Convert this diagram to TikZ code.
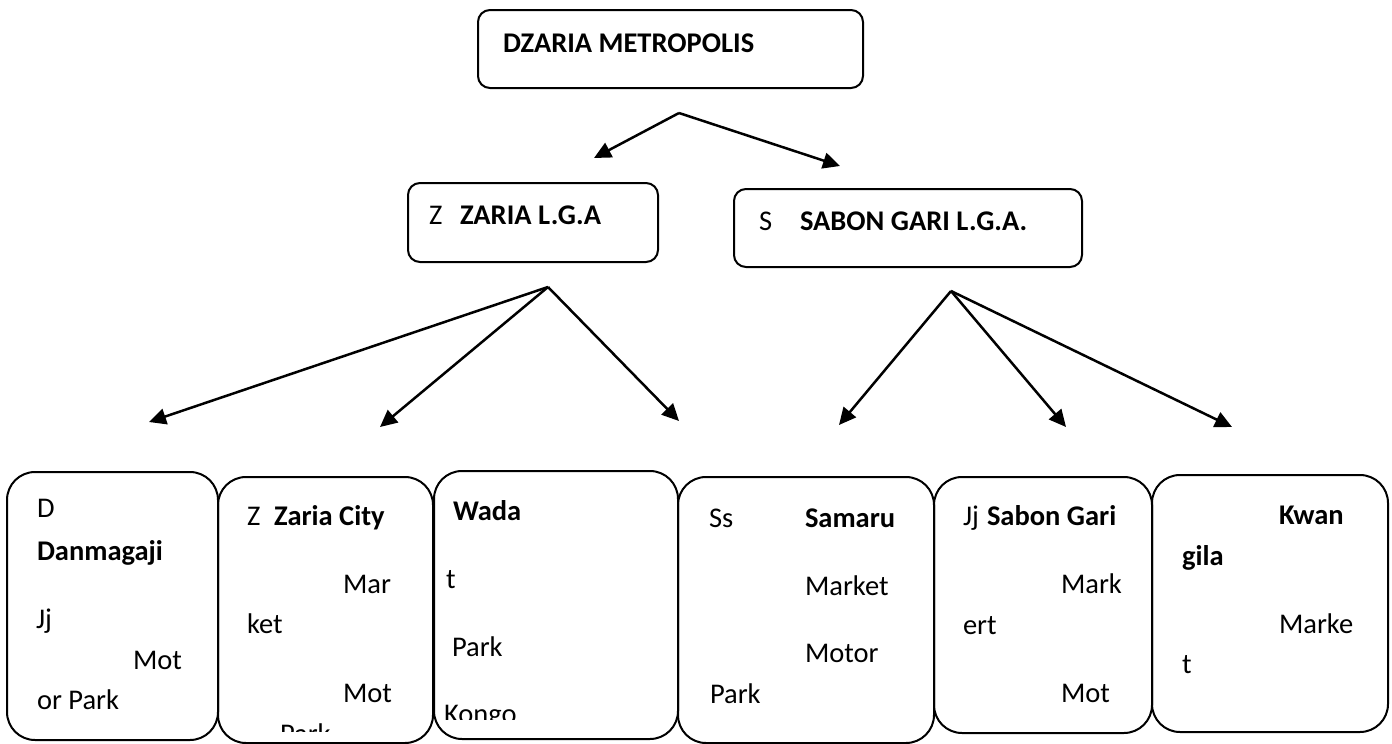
\documentclass[tikz,border=0pt]{standalone}
\usepackage{fontspec}
\setmainfont{Carlito}
\usetikzlibrary{arrows.meta}
\tikzset{
  topbox/.style={draw, line width=2pt, rounded corners=12pt, inner sep=0pt, outer sep=0pt},
  bigbox/.style={draw, line width=2pt, rounded corners=28pt, inner sep=0pt, outer sep=0pt},
  txt/.style={anchor=base west, inner sep=0pt, outer sep=0pt, font=\fontsize{28.5}{34}\selectfont},
  btxt/.style={txt, font=\fontsize{28.5}{34}\selectfont\bfseries},
  arr/.style={line width=2.5pt, -{Triangle[length=17pt,width=16pt]}}
}
\begin{document}
\begin{tikzpicture}[x=1pt,y=-1pt]
\useasboundingbox (0,0) rectangle (1392,744);
% top level boxes
\node[topbox, minimum width=385pt, minimum height=78pt] (top) at (670.5,49) {};
\node[topbox, minimum width=250pt, minimum height=79pt] (zlga) at (533,222.5) {};
\node[topbox, minimum width=348pt, minimum height=78pt] (slga) at (908,228) {};
\node[btxt] (ttop) at (503,52) {DZARIA METROPOLIS};
\node[txt] (tz) at (429,224) {Z};
\node[btxt] (tzlga) at (460,224) {ZARIA L.G.A};
\node[txt] (ts) at (759,230) {S};
\node[btxt] (tslga) at (800,230) {SABON GARI L.G.A.};
% bottom boxes
\node[bigbox, minimum width=211pt, minimum height=268pt] (b1) at (112.5,606) {};
\node[bigbox, minimum width=215pt, minimum height=266pt] (b2) at (325.5,610) {};
\node[bigbox, minimum width=244pt, minimum height=268pt] (b3) at (556,605) {};
\node[bigbox, minimum width=256pt, minimum height=266pt] (b4) at (806,610) {};
\node[bigbox, minimum width=218pt, minimum height=256pt] (b5) at (1043,605) {};
\node[bigbox, minimum width=236pt, minimum height=257pt] (b6) at (1270,603.5) {};
% box 1
\node[txt] (b1a) at (37,517) {D};
\node[btxt] (b1b) at (37,560) {Danmagaji};
\node[txt] (b1c) at (36,628) {Jj};
\node[txt] (b1d) at (133,669) {Mot};
\node[txt] (b1e) at (37,709) {or Park};
% box 2
\node[txt] (b2a) at (247,525) {Z};
\node[btxt] (b2b) at (274,525) {Zaria City};
\node[txt] (b2c) at (343,593) {Mar};
\node[txt] (b2d) at (247,633) {ket};
\node[txt] (b2e) at (343,702) {Mot};
\begin{scope}
\clip (220,479) rectangle (431,731);
\node[txt] (b2f) at (280,743) {Park};
\end{scope}
% box 3
\node[btxt] (b3a) at (453,520) {Wada};
\node[txt] (b3b) at (446,588) {t};
\node[txt] (b3c) at (452,656) {Park};
\begin{scope}
\clip (436,473) rectangle (676,719);
\node[txt] (b3d) at (444,723) {Kongo};
\end{scope}
% box 4
\node[txt] (b4a) at (709,527) {Ss};
\node[btxt] (b4b) at (805,527) {Samaru};
\node[txt] (b4c) at (805,595) {Market};
\node[txt] (b4d) at (805,662) {Motor};
\node[txt] (b4e) at (710,703) {Park};
% box 5
\node[txt] (b5a) at (963,525) {Jj};
\node[btxt] (b5b) at (987,525) {Sabon Gari};
\node[txt] (b5c) at (1061,593) {Mark};
\node[txt] (b5d) at (963,634) {ert};
\node[txt] (b5e) at (1061,702) {Mot};
% box 6
\node[btxt] (b6a) at (1279,524) {Kwan};
\node[btxt] (b6b) at (1182,565) {gila};
\node[txt] (b6c) at (1279,633) {Marke};
\node[txt] (b6d) at (1182,673) {t};
% connectors
\coordinate (a0) at (679,113);
\coordinate (t0l) at (594,158);
\coordinate (t0r) at (840,166);
\coordinate (a1) at (548,287);
\coordinate (t11) at (149,422);
\coordinate (t12) at (380,427);
\coordinate (t13) at (679,421);
\coordinate (a2) at (951,291);
\coordinate (t21) at (839,425);
\coordinate (t22) at (1066,427);
\coordinate (t23) at (1232,427);
\draw[arr] (a0) -- (t0l);
\draw[arr] (a0) -- (t0r);
\draw[arr] (a1) -- (t11);
\draw[arr] (a1) -- (t12);
\draw[arr] (a1) -- (t13);
\draw[arr] (a2) -- (t21);
\draw[arr] (a2) -- (t22);
\draw[arr] (a2) -- (t23);
\end{tikzpicture}
\end{document}
